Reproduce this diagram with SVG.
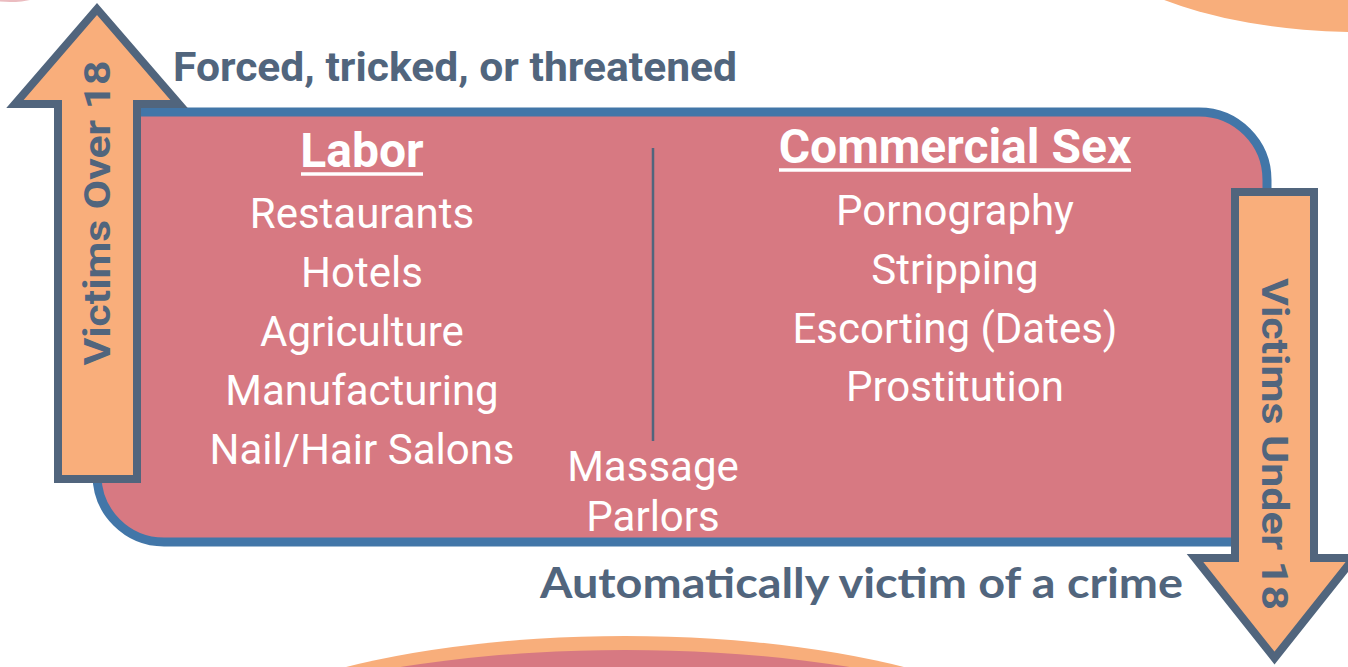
<svg xmlns="http://www.w3.org/2000/svg" width="1348" height="667" viewBox="0 0 1348 667">
<style>
.deco-o{fill:#F8AE7B}
.deco-p{fill:#D77982}
.box{fill:#D77982;stroke:#4276A8;stroke-width:9}
.arrow{fill:#F9AE7B;stroke:#51657D;stroke-width:8;stroke-linejoin:miter;stroke-miterlimit:10}
.dark{fill:#51657D;font-family:Roboto,"Liberation Sans",sans-serif;font-weight:bold}
.head{fill:#fff;font-family:Roboto,"Liberation Sans",sans-serif;font-weight:bold;font-size:48px;text-anchor:middle}
.item{fill:#fff;font-family:Roboto,"Liberation Sans",sans-serif;font-size:42px;text-anchor:middle}
.ul{stroke:#fff;stroke-width:3.5}
</style>
<g id="decor">
<ellipse class="deco-p" cx="10" cy="-6" rx="30" ry="8" opacity="0.5"/>
<ellipse class="deco-o" cx="1360" cy="-90" rx="290" ry="122"/>
<ellipse class="deco-o" cx="625" cy="780" rx="450" ry="144"/>
<ellipse class="deco-p" cx="625" cy="790" rx="470" ry="140"/>
</g>
<g id="main-box">
<path class="box" d="M97,112 H1199 A68,68 0 0 1 1267,180 V542 H164 A67,67 0 0 1 97,475 Z"/>
</g>
<g id="connectors">
<line x1="653" y1="148" x2="653" y2="441" stroke="#51657D" stroke-width="2.5"/>
</g>
<g id="arrow-over">
<polygon class="arrow" points="58,479 58,104 15,104 97,9 179,104 137,104 137,479"/>
<text class="dark" font-size="36" text-anchor="middle" transform="translate(110,213) rotate(-90)" textLength="305" lengthAdjust="spacingAndGlyphs">Victims Over 18</text>
</g>
<g id="arrow-under">
<polygon class="arrow" points="1235,192 1314,192 1314,558 1354,558 1274.5,658 1195,558 1235,558"/>
<text class="dark" font-size="36" text-anchor="middle" transform="translate(1262,444) rotate(90)" textLength="332" lengthAdjust="spacingAndGlyphs">Victims Under 18</text>
</g>
<g id="label-top">
<text class="dark" x="173" y="81" font-size="41" textLength="564" lengthAdjust="spacingAndGlyphs">Forced, tricked, or threatened</text>
</g>
<g id="label-bottom">
<text class="dark" x="540" y="598" font-size="42" textLength="643" lengthAdjust="spacingAndGlyphs" style="font-family:Lato,'Liberation Sans',sans-serif">Automatically victim of a crime</text>
</g>
<g id="labor">
<text class="head" x="362" y="167">Labor</text>
<line class="ul" x1="301" y1="174" x2="423" y2="174"/>
<text class="item" x="362" y="228">Restaurants</text>
<text class="item" x="362" y="287">Hotels</text>
<text class="item" x="362" y="346">Agriculture</text>
<text class="item" x="362" y="405">Manufacturing</text>
<text class="item" x="362" y="464">Nail/Hair Salons</text>
</g>
<g id="commercial-sex">
<text class="head" x="955" y="163">Commercial Sex</text>
<line class="ul" x1="779" y1="170" x2="1131" y2="170"/>
<text class="item" x="955" y="225">Pornography</text>
<text class="item" x="955" y="284">Stripping</text>
<text class="item" x="955" y="343">Escorting (Dates)</text>
<text class="item" x="955" y="401">Prostitution</text>
</g>
<g id="massage">
<text class="item" x="653" y="481">Massage</text>
<text class="item" x="653" y="531">Parlors</text>
</g>
</svg>
